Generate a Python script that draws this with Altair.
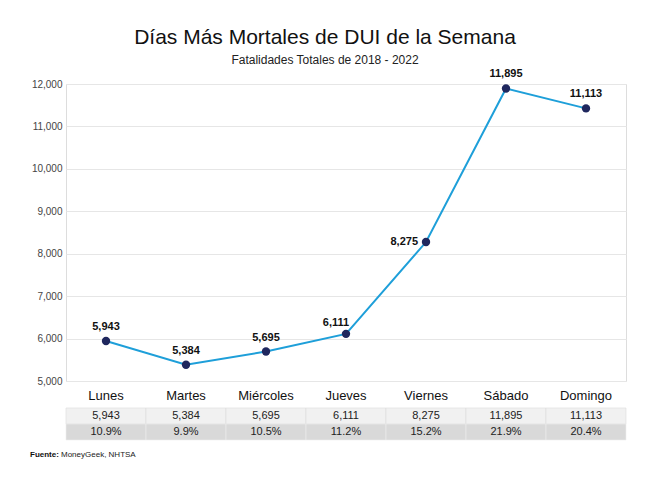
import altair as alt
import pandas as pd

days = ["Lunes", "Martes", "Miércoles", "Jueves", "Viernes", "Sábado", "Domingo"]
fatalities = [5943, 5384, 5695, 6111, 8275, 11895, 11113]
# vertical position of each dot (Domingo is drawn higher than its label)
plot_position = [5943, 5384, 5695, 6111, 8275, 11895, 11425]
shares = ["10.9%", "9.9%", "10.5%", "11.2%", "15.2%", "21.9%", "20.4%"]
y_ticks = [5000, 6000, 7000, 8000, 9000, 10000, 11000, 12000]

df = pd.DataFrame({
    "day": days,
    "fatalities": fatalities,
    "pos": plot_position,
    "share": shares,
})
df["label"] = df["fatalities"].map(lambda v: f"{v:,}")

FONT = "Liberation Sans"
W, H = 560, 297

x = alt.X("day:N", sort=days, scale=alt.Scale(paddingInner=0, paddingOuter=0),
          axis=alt.Axis(title=None, labelAngle=0, labelFontSize=13, labelColor="#111",
                        labelFont=FONT, ticks=False, domain=False, labelPadding=8,
                        labelAlign="center"))
y = alt.Y("pos:Q", scale=alt.Scale(domain=[5000, 12000], nice=False, zero=False),
          axis=alt.Axis(title=None, values=y_ticks, format=",.0f", labelFontSize=10,
                        labelColor="#444", labelFont=FONT, ticks=False, domain=False,
                        grid=True, gridColor="#e6e6e6", labelPadding=4))

base = alt.Chart(df)

line = base.mark_line(color="#1e9fd9", strokeWidth=2).encode(x=x, y=y)
pts = base.mark_circle(color="#1f275e", size=70, opacity=1).encode(x=x, y=y)

lab_common = dict(fontSize=11, fontWeight="bold", font=FONT, color="#111")
labels_up = base.transform_filter(
    alt.FieldOneOfPredicate(field="day", oneOf=["Lunes", "Martes", "Miércoles", "Sábado", "Domingo"])
).mark_text(dy=-14, **lab_common).encode(x=x, y=y, text="label:N")
label_jue = base.transform_filter(alt.datum.day == "Jueves").mark_text(
    dx=-10, dy=-11, **lab_common).encode(x=x, y=y, text="label:N")
label_vie = base.transform_filter(alt.datum.day == "Viernes").mark_text(
    align="right", dx=-8, dy=0, **lab_common).encode(x=x, y=y, text="label:N")

row1 = base.mark_rect(color="#f1f1f1", stroke="#dcdcdc", strokeWidth=0.6).encode(
    x=x, y=alt.value(H + 27), y2=alt.value(H + 43))
row2 = base.mark_rect(color="#d9d9d9", stroke="#eeeeee", strokeWidth=0.6).encode(
    x=x, y=alt.value(H + 43), y2=alt.value(H + 59))
txt1 = base.mark_text(fontSize=11, font=FONT, color="#222", baseline="middle").encode(
    x=x, y=alt.value(H + 35), text="label:N")
txt2 = base.mark_text(fontSize=11, font=FONT, color="#222", baseline="middle").encode(
    x=x, y=alt.value(H + 51), text="share:N")

src_bold = base.transform_filter(alt.datum.day == "Lunes").mark_text(
    text="Fuente:", fontSize=8, fontWeight="bold", font=FONT, color="#111", align="left",
    baseline="middle").encode(x=alt.value(-36), y=alt.value(H + 74))
src = base.transform_filter(alt.datum.day == "Lunes").mark_text(
    text="MoneyGeek, NHTSA", fontSize=8, font=FONT, color="#222", align="left",
    baseline="middle").encode(x=alt.value(-5), y=alt.value(H + 74))

chart = alt.layer(
    line, pts, row1, row2, txt1, txt2, labels_up, label_jue, label_vie, src_bold, src
).properties(
    width=W, height=H,
    title=alt.TitleParams(
        text="Días Más Mortales de DUI de la Semana",
        subtitle="Fatalidades Totales de 2018 - 2022",
        anchor="middle", font=FONT, fontSize=21, fontWeight="normal", color="#111",
        subtitleFont=FONT, subtitleFontSize=12, subtitleColor="#222",
        subtitlePadding=7, offset=2, dx=-21,
    ),
    autosize=alt.AutoSizeParams(type="none"),
    padding={"left": 66, "top": 84, "right": 24, "bottom": 104},
).configure_view(stroke=None).configure(background="white")

chart.save("out.html", embed_options={"renderer": "svg", "actions": False})
